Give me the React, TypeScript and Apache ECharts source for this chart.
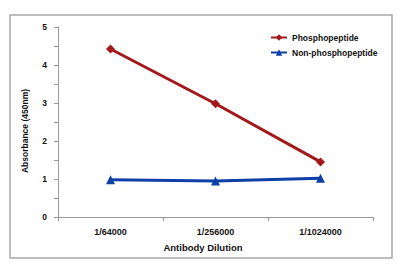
import React, { useEffect, useRef } from "react";
import * as echarts from "echarts";

const categories = ["1/64000", "1/256000", "1/1024000"];
const phospho = [4.42, 2.98, 1.45];
const nonPhospho = [0.98, 0.95, 1.02];
const yTicks = [0, 1, 2, 3, 4, 5];

export default function App() {
  const ref = useRef<HTMLDivElement>(null);
  useEffect(() => {
    if (!ref.current) return;
    const chart = echarts.init(ref.current, undefined, { renderer: "svg" });
    const font = "Liberation Sans, Arial, sans-serif";
    chart.setOption({
      animation: false,
      backgroundColor: "#ffffff",
      graphic: [
        {
          type: "rect",
          shape: { x: 10, y: 15, width: 382, height: 243 },
          style: { fill: "none", stroke: "#a8a8a8", lineWidth: 1.5 },
          silent: true,
        },
        {
          type: "text",
          x: 25,
          y: 131,
          rotation: Math.PI / 2,
          style: {
            text: "Absorbance (450nm)",
            fontFamily: font,
            fontSize: 8.5,
            fontWeight: "bold",
            fill: "#111",
            align: "center",
            verticalAlign: "middle",
          },
        },
        {
          type: "text",
          x: 203,
          y: 247,
          style: {
            text: "Antibody Dilution",
            fontFamily: font,
            fontSize: 9.5,
            fontWeight: "bold",
            fill: "#111",
            align: "center",
            verticalAlign: "middle",
          },
        },
      ],
      grid: { left: 58, right: 27, top: 27, bottom: 55 },
      legend: {
        left: 265,
        top: 28,
        orient: "vertical",
        itemWidth: 16,
        itemHeight: 8,
        itemGap: 6,
        textStyle: { fontFamily: font, fontSize: 8.5, fontWeight: "bold", color: "#111" },
        data: ["Phosphopeptide", "Non-phosphopeptide"],
      },
      xAxis: {
        type: "category",
        data: categories,
        boundaryGap: true,
        axisLine: { lineStyle: { color: "#999", width: 1 } },
        axisTick: { show: true, length: 4, lineStyle: { color: "#999" } },
        axisLabel: { fontFamily: font, fontSize: 9, fontWeight: "bold", color: "#111", margin: 10 },
      },
      yAxis: {
        type: "value",
        min: 0,
        max: 5,
        interval: 0.5,
        axisLine: { show: true, lineStyle: { color: "#999", width: 1 } },
        axisTick: { show: true, length: 4, lineStyle: { color: "#999" } },
        splitLine: { show: false },
        axisLabel: {
          fontFamily: font,
          fontSize: 8.5,
          fontWeight: "bold",
          color: "#111",
          margin: 11,
          formatter: (v: number) => (yTicks.includes(v) ? String(v) : ""),
        },
      },
      series: [
        {
          name: "Phosphopeptide",
          type: "line",
          data: phospho,
          symbol: "diamond",
          symbolSize: 9,
          lineStyle: { color: "#a3191b", width: 3 },
          itemStyle: { color: "#a3191b" },
        },
        {
          name: "Non-phosphopeptide",
          type: "line",
          data: nonPhospho,
          symbol: "triangle",
          symbolSize: 9,
          lineStyle: { color: "#0d3fa6", width: 3 },
          itemStyle: { color: "#0d3fa6" },
        },
      ],
    });
    return () => chart.dispose();
  }, []);
  return (
    <div
      ref={ref}
      style={{ position: "fixed", left: 0, top: 0, width: 400, height: 272, background: "#fff" }}
    />
  );
}
